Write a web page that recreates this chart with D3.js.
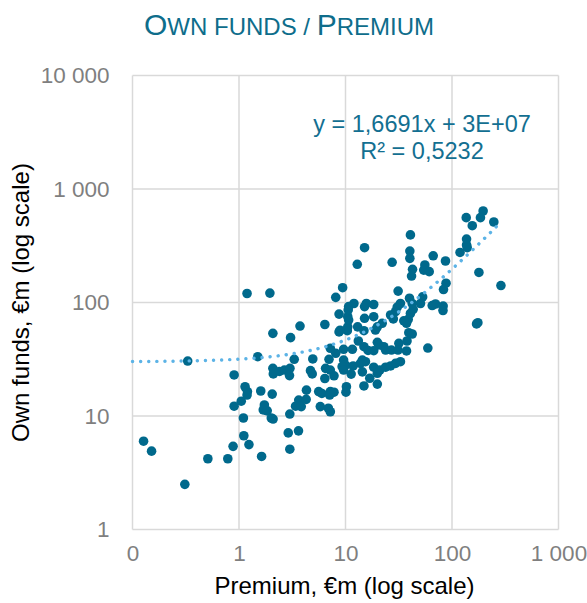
<html>
<head>
<meta charset="utf-8">
<style>
body { margin: 0; background: #fff; }
text { font-family: "Liberation Sans", Arial, sans-serif; }
.grid line { stroke: #d9d9d9; stroke-width: 1.5; }
.axis path, .axis line { display: none; }
.axis text { fill: #7f7f7f; font-size: 22.5px; font-family: "Liberation Sans", Arial, sans-serif; }
.dot { fill: #00698c; }
.trend { fill: none; stroke: #5cb3e6; stroke-width: 3.4; stroke-linecap: round; stroke-dasharray: 0.1 8; }
</style>
</head>
<body>
<svg width="587" height="603"></svg>
<script src="https://d3js.org/d3.v7.min.js"></script>
<script>

// premium and own funds, €m
var premium = [
  0.127, 0.151, 0.31, 0.33, 0.51, 0.785, 0.88, 1.11, 1.24, 1.63,
  0.90, 1.14, 1.20, 1.19, 1.05, 0.90, 1.10, 1.60, 2.05, 1.73,
  1.69, 1.84, 2.01, 2.09, 2.90, 3.62, 3.00, 3.00, 2.08, 3.05,
  1.50, 3.30, 4.93, 1.19, 1.95, 3.74, 6.4, 3.40, 3.64, 3.84,
  4.30, 4.27, 5.6, 6.0, 7.2, 7.8, 7.1, 10.1, 5.8, 6.9,
  7.2, 2.08, 2.10, 2.40, 2.67, 3.01, 2.98, 4.69, 4.87, 6.4,
  6.5, 7.2, 7.8, 7.0, 7.2, 8.1, 8.1, 8.7, 8.7, 10.5,
  10.7, 12.0, 9.4, 12.9, 10.5, 13.0, 13.2, 15.1, 40.7, 27.4,
  40.2, 40.2, 66.6, 86.9, 55.6, 54.3, 61.1, 42.6, 41.7, 136,
  196, 185, 155, 247, 137, 137, 139, 119, 179, 288,
  170, 175, 59.3, 87.9, 83.2, 70.0, 65.2, 82.6, 82.3, 53,
  50.6, 31.2, 39.9, 42.3, 15.7, 15.1, 18.4, 32.8, 30.6, 40.7,
  38.8, 37.4, 29.5, 22.1, 19.9, 15.1, 18.4, 26.5, 28.1, 10.4,
  8.9, 14.9, 39.3, 42.3, 19.9, 20.6, 22.9, 23.8, 31.7, 37.8,
  37.4, 9.6, 11.6, 14.9, 16.3, 18.4, 27, 31.1, 14.4, 15.4,
  13.8, 9.6, 10.0, 9.3, 11.8, 18.4, 21, 23.8, 26.5, 29.5,
  32.8, 11.3, 14.4, 19.9, 16.9, 14.9, 10.2, 19.9, 43.2, 35.3,
  10.6, 10.7, 19.1, 9.6
];
var ownFunds = [
  6.0, 4.9, 2.5, 30.5, 4.2, 4.2, 5.4, 6.7, 5.6, 4.4,
  23, 18.1, 16.4, 15.3, 13.5, 12.2, 9.6, 16.6, 15.6, 12.5,
  11.3, 11.1, 9.6, 9.4, 7.1, 7.4, 5.1, 10.4, 53.5, 49,
  33.3, 31.6, 31.8, 120, 121, 62, 64, 12.2, 13.8, 12.1,
  16.9, 14.0, 16.4, 15.8, 16.4, 16.2, 15.3, 16.2, 12.1, 11.7,
  10.9, 26.3, 23.5, 24.7, 25.4, 26.3, 22.7, 25.1, 23.5, 21.4,
  26.3, 25.4, 22.6, 31.6, 39.5, 35.7, 111, 79, 55, 75,
  92, 98, 135, 217, 61, 61, 45.8, 304, 394, 226,
  284, 245, 258, 232, 214, 193, 187, 196, 171, 559,
  640, 559, 475, 512, 362, 321, 304, 276, 184, 141,
  64.7, 66.4, 39.7, 148, 130, 97, 94, 93, 85, 112,
  98, 126, 109, 98, 98, 92, 96, 98, 91, 80,
  71, 65.6, 83, 65.6, 61, 72.6, 75, 77.6, 71.6, 56.4,
  57, 56.4, 54.2, 52.8, 44.6, 42.3, 40.8, 38.1, 43.7, 45.8,
  37.4, 38.7, 38.7, 40.8, 37.8, 37.6, 38.1, 38.1, 31.1, 30.1,
  29.1, 31.1, 28.1, 27.2, 27.6, 26.9, 25.4, 26.9, 27.6, 29.1,
  30.1, 23.4, 24.5, 23.8, 21.5, 18.4, 18.1, 19.1, 87, 69,
  86, 70, 57.2, 25.4
];

var xTicks = [0.1, 1, 10, 100, 1000],
    xTickLabels = ["0", "1", "10", "100", "1 000"];
var yTicks = [1, 10, 100, 1000, 10000],
    yTickLabels = ["1", "10", "100", "1 000", "10 000"];

// linear trendline from Excel: y = 1,6691x + 3E+07 (in €), i.e. +30 €m
var slope = 1.6691, intercept = 30;

var svg = d3.select("svg"),
    margin = {top: 75.5, right: 28.5, bottom: 73.5, left: 132.5},
    width = +svg.attr("width") - margin.left - margin.right,
    height = +svg.attr("height") - margin.top - margin.bottom;

var x = d3.scaleLog().domain([0.1, 1000]).range([0, width]),
    y = d3.scaleLog().domain([1, 10000]).range([height, 0]);

var g = svg.append("g")
  .attr("transform", "translate(" + margin.left + "," + margin.top + ")");

// gridlines
g.append("g").attr("class", "grid")
  .selectAll("line").data(yTicks).enter().append("line")
  .attr("x1", 0).attr("x2", width)
  .attr("y1", function(d) { return y(d); })
  .attr("y2", function(d) { return y(d); });

g.append("g").attr("class", "grid")
  .selectAll("line").data(xTicks).enter().append("line")
  .attr("y1", 0).attr("y2", height)
  .attr("x1", function(d) { return x(d); })
  .attr("x2", function(d) { return x(d); });

// axes
g.append("g")
  .attr("class", "axis axis--x")
  .attr("transform", "translate(0," + height + ")")
  .call(d3.axisBottom(x).tickValues(xTicks).tickSize(0).tickPadding(16)
    .tickFormat(function(d, i) { return xTickLabels[i]; }));

g.append("g")
  .attr("class", "axis axis--y")
  .call(d3.axisLeft(y).tickValues(yTicks).tickSize(0).tickPadding(23)
    .tickFormat(function(d, i) { return yTickLabels[i]; }));

// points
var data = premium.map(function(p, i) { return {p: p, o: ownFunds[i]}; });

g.selectAll(".dot")
  .data(data)
  .enter().append("circle")
  .attr("class", "dot")
  .attr("r", 4.8)
  .attr("cx", function(d) { return x(d.p); })
  .attr("cy", function(d) { return y(d.o); });

// trendline, curved on log axes
var xmax = d3.max(premium);
var trendX = d3.range(0, 201).map(function(i) {
  return Math.pow(10, -1 + i / 200 * (Math.log10(xmax) + 1));
});
g.append("path")
  .attr("class", "trend")
  .attr("d", d3.line()
    .x(function(d) { return x(d); })
    .y(function(d) { return y(slope * d + intercept); })(trendX));

// equation
svg.append("text")
  .attr("x", 422).attr("y", 132)
  .attr("text-anchor", "middle")
  .style("font-size", "23.5px").style("fill", "#136f91")
  .text("y = 1,6691x + 3E+07");
svg.append("text")
  .attr("x", 422).attr("y", 159)
  .attr("text-anchor", "middle")
  .style("font-size", "23.5px").style("fill", "#136f91")
  .text("R² = 0,5232");

// title in small caps
var title = svg.append("text")
  .attr("x", 289).attr("y", 35)
  .attr("text-anchor", "middle")
  .style("fill", "#0e6d8b");
title.append("tspan").style("font-size", "30px").text("O");
title.append("tspan").style("font-size", "24px").text("WN FUNDS / ");
title.append("tspan").style("font-size", "30px").text("P");
title.append("tspan").style("font-size", "24px").text("REMIUM");

// text label for the x axis
svg.append("text")
  .attr("x", margin.left + width / 2 - 1)
  .attr("y", 594)
  .style("text-anchor", "middle")
  .style("font-size", "24px")
  .text("Premium, €m (log scale)");

// text label for the y axis
svg.append("text")
  .attr("transform", "rotate(-90)")
  .attr("x", -(margin.top + height / 2))
  .attr("y", 29)
  .style("text-anchor", "middle")
  .style("font-size", "24px")
  .text("Own funds, €m (log scale)");

</script>
</body>
</html>
